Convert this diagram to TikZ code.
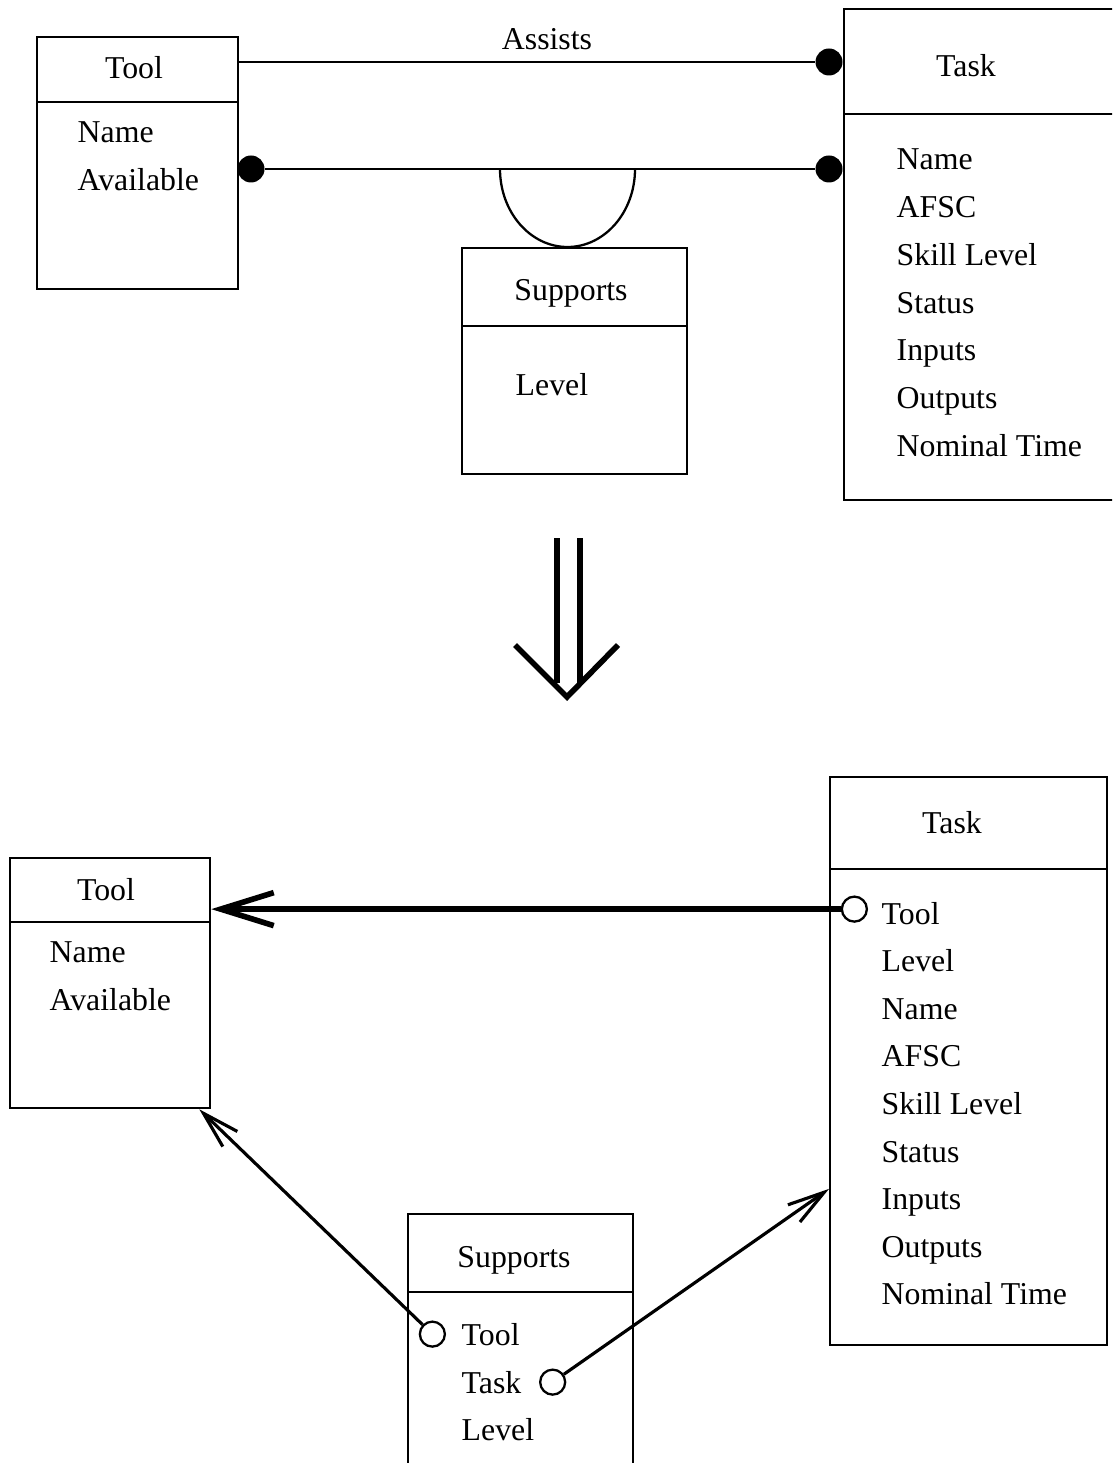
\documentclass[tikz,border=0pt]{standalone}
\usepackage{fontspec}
\setmainfont{Liberation Serif}
\usetikzlibrary{
  arrows.meta,
  positioning,
  calc
}

\newcommand{\diagfont}{\fontsize{9.05}{10.5}\selectfont}

\begin{document}
\begin{tikzpicture}[
  x=0.1mm, y=-0.1mm,
  entity/.style={rectangle, draw, line width=0.65pt, anchor=north west, inner sep=0pt},
  title/.style={font=\diagfont, text depth=0pt, inner sep=0pt},
  attr/.style={font=\diagfont, anchor=base west, inner sep=0pt},
  dot/.style={circle, fill, inner sep=0pt, minimum size=2.7mm},
  key/.style={circle, draw, line width=0.65pt, fill=white, inner sep=0pt, minimum size=2.5mm},
  rel/.style={line width=0.65pt},
  arr/.style={-{Straight Barb[length=3.7mm, width=2.1mm]}, line width=0.9pt},
  bigarr/.style={-{Straight Barb[length=5.3mm, width=3.3mm]}, line width=1.6pt},
  turn/.style={line width=1.6pt},
]

\useasboundingbox (0,0) rectangle (1112,1463);
\clip (0,0) rectangle (1112,1463);

% Before: relationship form
\node[entity, minimum width=20.1mm, minimum height=25.2mm] (tool) at (36,36) {};
\draw[rel] ([yshift=-6.6mm]tool.north west) -- ([yshift=-6.6mm]tool.north east);
\node[title] (toolhead) at (134,67) {Tool};
\node[attr] (toolattr1) at (77,143) {Name};
\node[attr] (toolattr2) at (77,191) {Available};

\node[entity, minimum width=28.7mm, minimum height=49.1mm] (task) at (843,8) {};
\draw[rel] ([yshift=-10.6mm]task.north west) -- ([yshift=-10.6mm]task.north east);
\node[title] (taskhead) at (966,65) {Task};
\foreach \a [count=\i] in {Name, AFSC, Skill Level, Status, Inputs, Outputs, Nominal Time}
  \node[attr] (taskattr\i) at (896,122.3+47.7*\i) {\a};

\node[entity, minimum width=22.5mm, minimum height=22.6mm] (sup) at (461,247) {};
\draw[rel] ([yshift=-7.9mm]sup.north west) -- ([yshift=-7.9mm]sup.north east);
\node[title] (suphead) at (571,290) {Supports};
\node[attr] (supattr1) at (515,396) {Level};

% Relationships
\node[dot] (assistdot) at (829,62) {};
\draw[rel] (tool.east |- assistdot) -- (assistdot);
\node[title] (assistlabel) at (547,39) {Assists};

\node[dot] (suptool) at (251,169) {};
\node[dot] (suptask) at (829,169) {};
\draw[rel] (suptool) -- (suptask);
\draw[rel] (500,169) arc[start angle=180, end angle=360, x radius=6.75mm, y radius=7.8mm];

% Transformation
\draw[turn] (557,538) -- (557,683);
\draw[turn] (580,538) -- (580,683);
\draw[turn] (515,645) -- (567,697) -- (618,645);

% After: foreign keys
\node[entity, minimum width=20mm, minimum height=25mm] (rtool) at (9,857) {};
\draw[rel] ([yshift=-6.5mm]rtool.north west) -- ([yshift=-6.5mm]rtool.north east);
\node[title] (rtoolhead) at (106,889) {Tool};
\node[attr] (rtoolattr1) at (49,962) {Name};
\node[attr] (rtoolattr2) at (49,1010) {Available};

\node[entity, minimum width=27.7mm, minimum height=56.8mm] (rtask) at (829,776) {};
\draw[rel] ([yshift=-9.3mm]rtask.north west) -- ([yshift=-9.3mm]rtask.north east);
\node[title] (rtaskhead) at (952,822) {Task};
\foreach \a [count=\i] in {Tool, Level, Name, AFSC, Skill Level, Status, Inputs, Outputs, Nominal Time}
  \node[attr] (rtaskattr\i) at (881,876.4+47.6*\i) {\a};

\node[entity, minimum width=22.5mm, minimum height=30mm] (rsup) at (407,1213) {};
\draw[rel] ([yshift=-7.9mm]rsup.north west) -- ([yshift=-7.9mm]rsup.north east);
\node[title] (rsuphead) at (514,1257) {Supports};
\node[attr] (rsupattr1) at (461,1345) {Tool};
\node[attr] (rsupattr2) at (461,1393) {Task};
\node[attr] (rsupattr3) at (461,1440) {Level};

\node[key, left=1.3mm of rtaskattr1, yshift=0.4mm] (taskkey) {};
\node[key, left=1.5mm of rsupattr1] (supkey1) {};
\node[key, right=1.7mm of rsupattr2] (supkey2) {};

\draw[bigarr] (taskkey) -- (taskkey -| rtool.east);
\draw[arr] (supkey1) -- ([xshift=-1.2mm]rtool.south east);
\draw[arr] (supkey2) -- ($(rtask.north west)!0.724!(rtask.south west)$);

\end{tikzpicture}
\end{document}
